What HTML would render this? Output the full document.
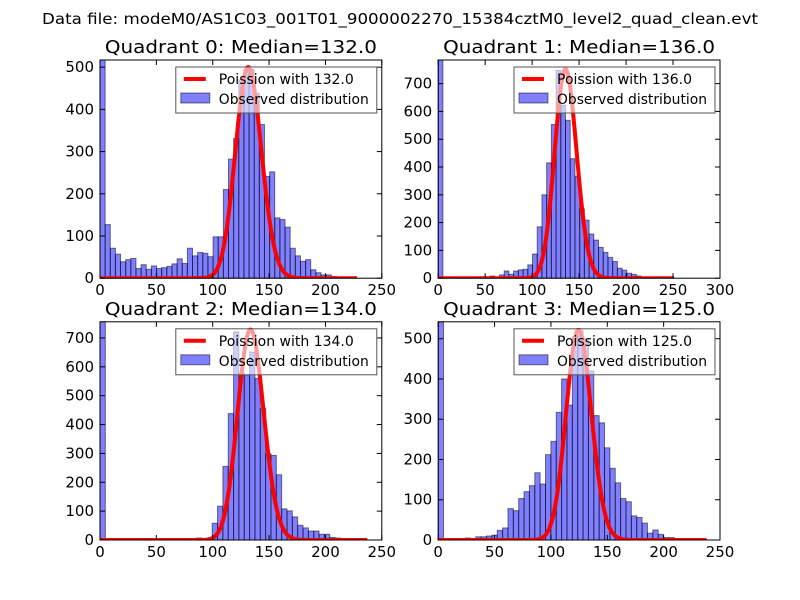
<!DOCTYPE html>
<html><head><meta charset="utf-8"><style>
html,body{margin:0;padding:0;background:#fff;}
svg{display:block;font-family:"DejaVu Sans","Liberation Sans",sans-serif;}
</style></head><body>
<svg id="fig" width="800" height="600" viewBox="0 0 800 600" xmlns="http://www.w3.org/2000/svg">
<rect width="800" height="600" fill="#fff"/>
<text x="400" y="24" text-anchor="middle" font-size="15" textLength="716" lengthAdjust="spacingAndGlyphs">Data file: modeM0/AS1C03_001T01_9000002270_15384cztM0_level2_quad_clean.evt</text>
</svg>
<script>
const q0Counts=[517,127,71,57,39,44,47,23,32,21,29,23,25,28,34,46,35,71,53,61,59,51,98,98,210,282,331,470,495,495,438,364,241,252,143,139,121,71,53,40,44,20,13,8,8,4,2,1,1,1];
const q1Counts=[785,3,3,2,1,1,1,1,1,2,3,8,3,12,26,14,26,30,32,48,87,185,300,415,553,748,622,568,430,367,249,209,159,137,111,93,75,60,36,29,18,14,8,4,2,1,1,1,1,1];
const q2Counts=[756,0,0,0,0,0,0,0,0,0,0,0,0,0,0,3,4,5,7,4,4,58,117,255,438,721,578,572,651,560,456,299,293,226,108,101,80,51,42,31,31,20,20,9,7,2,1,1,1,1];
const q3Counts=[542,0,2,1,2,5,3,8,8,10,12,24,30,78,73,103,120,135,167,139,212,245,317,400,335,505,520,500,420,309,291,229,178,142,103,95,60,56,42,17,25,14,6,6,2,2,1,1,1,1];
const dataMax=[228,251,237,238];
const medians=[132,136,134,125];
const poissonPeaks=[500,752,729,522];
const yMaxes=[517,785,756,542];
const xMaxes=[250,300,250,250];
const xTicks=[[0,50,100,150,200,250],[0,50,100,150,200,250,300],[0,50,100,150,200,250],[0,50,100,150,200,250]];
const yTicks=[[0,100,200,300,400,500],[0,100,200,300,400,500,600,700],[0,100,200,300,400,500,600,700],[0,100,200,300,400,500]];
const allCounts=[q0Counts,q1Counts,q2Counts,q3Counts];

const NS="http://www.w3.org/2000/svg";
const svg=document.getElementById('fig');
function mk(tag,attrs,parent){const e=document.createElementNS(NS,tag);for(const k in attrs)e.setAttribute(k,attrs[k]);(parent||svg).appendChild(e);return e;}
function lgamma(n){let s=0;for(let i=2;i<=n;i++)s+=Math.log(i);return s;}
const boxes=[[100,60,281.8,218.2],[438.2,60,281.8,218.2],[100,321.8,281.8,218.2],[438.2,321.8,281.8,218.2]];

for(let q=0;q<4;q++){
  const [L,T,W,H]=boxes[q];
  const sx=v=>L+v/xMaxes[q]*W;
  const sy=v=>T+H-v/yMaxes[q]*H;
  const g=mk('g',{});
  
  
  const counts=allCounts[q];
  const bw=dataMax[q]/counts.length;
  counts.forEach((c,i)=>{
    if(c<=0)return;
    const x0=sx(i*bw),x1=sx((i+1)*bw);
    const r=mk('rect',{x:x0,y:sy(c),width:x1-x0,height:sy(0)-sy(c),fill:'rgba(0,0,255,0.5)',stroke:'rgba(0,0,0,0.5)','stroke-width':1},g);
    
    
  });
  const mu=medians[q];
  const lpMax=mu*Math.log(mu)-mu-lgamma(mu);
  let d='';
  for(let k=0;k<=dataMax[q];k++){
    const lp=k*Math.log(mu||1)-mu-lgamma(k);
    const v=poissonPeaks[q]*Math.exp(lp-lpMax);
    d+=(k?'L':'M')+sx(k).toFixed(2)+' '+sy(v).toFixed(2);
  }
  const cp=mk('clipPath',{id:'clip'+q},g);
  mk('rect',{x:L,y:T,width:W,height:H},cp);
  const pl=mk('path',{d:d,fill:'none',stroke:'#ff0000','stroke-width':4,'stroke-linejoin':'round','clip-path':'url(#clip'+q+')'},g);
  
  
  const fr=mk('rect',{x:L,y:T,width:W,height:H,fill:'none',stroke:'#000','stroke-width':1},g);
  
  
  xTicks[q].forEach(t=>{
    const x=sx(t);
    mk('line',{x1:x,y1:T+H,x2:x,y2:T+H-5,stroke:'#000'},g);
    mk('line',{x1:x,y1:T,x2:x,y2:T+5,stroke:'#000'},g);
    const tl=mk('text',{x:x,y:T+H+17,'text-anchor':'middle','font-size':15},g);
    tl.textContent=t;
    
    
  });
  yTicks[q].forEach(t=>{
    const y=sy(t);
    mk('line',{x1:L,y1:y,x2:L+5,y2:y,stroke:'#000'},g);
    mk('line',{x1:L+W,y1:y,x2:L+W-5,y2:y,stroke:'#000'},g);
    const tl=mk('text',{x:L-6,y:y+5,'text-anchor':'end','font-size':15},g);
    tl.textContent=t;
    
    
  });
  const ti=mk('text',{x:L+W/2,y:T-7,'text-anchor':'middle','font-size':18,textLength:272,lengthAdjust:'spacingAndGlyphs'},g);
  ti.textContent='Quadrant '+q+': Median='+mu.toFixed(1);
  
  
  const lg=mk('g',{},g);
  
  
  const lx=L+W-206,ly=T+7;
  mk('rect',{x:lx,y:ly,width:201,height:46,fill:'rgba(255,255,255,0.6)',stroke:'#555','stroke-width':1},lg);
  mk('line',{x1:lx+8,y1:ly+12,x2:lx+30,y2:ly+12,stroke:'#ff0000','stroke-width':4},lg);
  const t1=mk('text',{x:lx+43,y:ly+17,'font-size':14},lg);
  t1.textContent='Poission with '+mu.toFixed(1);
  mk('rect',{x:lx+5,y:ly+26,width:29,height:10,fill:'rgba(0,0,255,0.5)',stroke:'rgba(0,0,0,0.5)'},lg);
  const t2=mk('text',{x:lx+43,y:ly+37,'font-size':14,textLength:150,lengthAdjust:'spacingAndGlyphs'},lg);
  t2.textContent='Observed distribution';
}
</script>
</body></html>
